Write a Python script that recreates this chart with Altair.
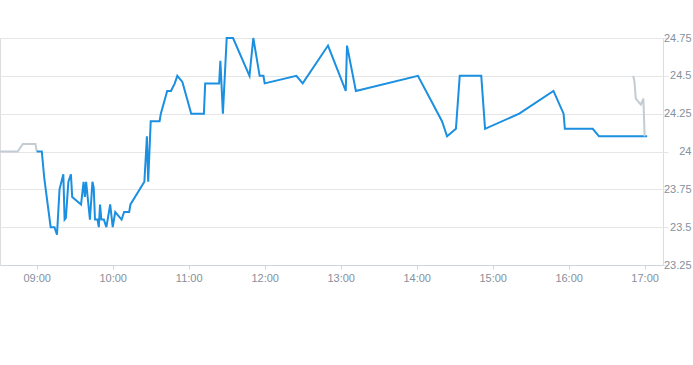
import altair as alt
import pandas as pd

DAY = "2024-01-02T"

# Main session (blue)
main_times = ["09:00", "09:04", "09:06", "09:11", "09:14", "09:16", "09:18", "09:21", "09:22", "09:23",
              "09:25", "09:27", "09:28", "09:35", "09:37", "09:38", "09:39", "09:42", "09:44", "09:45",
              "09:46", "09:48", "09:49", "09:50", "09:51", "09:53", "09:55", "09:58", "10:00", "10:02",
              "10:07", "10:09", "10:13", "10:14", "10:25", "10:27", "10:28", "10:30", "10:37", "10:38",
              "10:43", "10:46", "10:49", "10:51", "10:55", "11:02", "11:12", "11:13", "11:24", "11:25",
              "11:27", "11:30", "11:35", "11:48", "11:51", "11:56", "11:59", "12:00", "12:25", "12:30",
              "12:50", "13:04", "13:05", "13:12", "14:01", "14:20", "14:24", "14:31", "14:34", "14:51",
              "14:54", "15:21", "15:48", "15:56", "15:57", "16:19", "16:24", "17:02"]
main_values = [24.00, 24.00, 23.82, 23.50, 23.50, 23.45, 23.75, 23.85, 23.55, 23.56,
               23.80, 23.85, 23.70, 23.65, 23.80, 23.70, 23.80, 23.55, 23.80, 23.76,
               23.55, 23.55, 23.50, 23.65, 23.55, 23.55, 23.50, 23.65, 23.50, 23.60,
               23.55, 23.60, 23.60, 23.65, 23.80, 24.10, 23.80, 24.20, 24.20, 24.25,
               24.40, 24.40, 24.45, 24.50, 24.46, 24.25, 24.25, 24.45, 24.45, 24.60,
               24.25, 24.75, 24.75, 24.50, 24.75, 24.50, 24.50, 24.45, 24.50, 24.45,
               24.70, 24.40, 24.70, 24.40, 24.50, 24.20, 24.10, 24.15, 24.50, 24.50,
               24.15, 24.25, 24.40, 24.25, 24.15, 24.15, 24.10, 24.10]

# Pre-market (grey)
pre_times = ["08:31", "08:45", "08:49", "08:59", "09:00"]
pre_values = [24.00, 24.00, 24.05, 24.05, 24.00]

# After-hours (grey)
post_times = ["16:51", "16:52", "16:53", "16:57", "16:59", "17:00"]
post_values = [24.50, 24.46, 24.35, 24.31, 24.35, 24.10]

y_ticks = [23.25, 23.5, 23.75, 24.0, 24.25, 24.5, 24.75]
x_tick_hours = [9, 10, 11, 12, 13, 14, 15, 16, 17]


def frame(times, values):
    return pd.DataFrame({"t": [DAY + t + ":00" for t in times], "v": values})


x_domain = [alt.DateTime(year=2024, month=1, date=2, hours=8, minutes=31),
            alt.DateTime(year=2024, month=1, date=2, hours=17, minutes=14, seconds=30)]
x_values = [alt.DateTime(year=2024, month=1, date=2, hours=h) for h in x_tick_hours]

x_enc = alt.X("t:T", scale=alt.Scale(domain=x_domain),
              axis=alt.Axis(values=x_values, format="%H:%M", grid=False, title=None,
                            domainColor="#ccd5de", tickColor="#ccd5de", tickSize=4,
                            labelPadding=3, labelColor="#86909c", labelFontSize=11,
                            labelFont="Liberation Sans"))
y_enc = alt.Y("v:Q", scale=alt.Scale(domain=[23.25, 24.75], zero=False, nice=False),
              axis=alt.Axis(orient="right", values=y_ticks, labelExpr="'' + datum.value",
                            title=None, domain=False, gridColor="#e6e6e6", tickColor="#e6e6e6",
                            tickSize=5, labelAlign="right", labelPadding=23,
                            labelColor="#86909c", labelFontSize=11,
                            labelFont="Liberation Sans"))

pre = alt.Chart(frame(pre_times, pre_values)).mark_line(color="#c3cbd3", strokeWidth=2).encode(x=x_enc, y=y_enc)
main = alt.Chart(frame(main_times, main_values)).mark_line(color="#1b8fe0", strokeWidth=2).encode(x=x_enc, y=y_enc)
post = alt.Chart(frame(post_times, post_values)).mark_line(color="#c3cbd3", strokeWidth=2).encode(x=x_enc, y=y_enc)

chart = alt.layer(pre, main, post).properties(
    width=663, height=227,
    autosize=alt.AutoSizeParams(type="none"),
    padding={"left": 0, "top": 38, "right": 30, "bottom": 100},
).configure_view(stroke=None).configure(background="white")

chart.save("out.html", embed_options={"renderer": "svg", "actions": False})
